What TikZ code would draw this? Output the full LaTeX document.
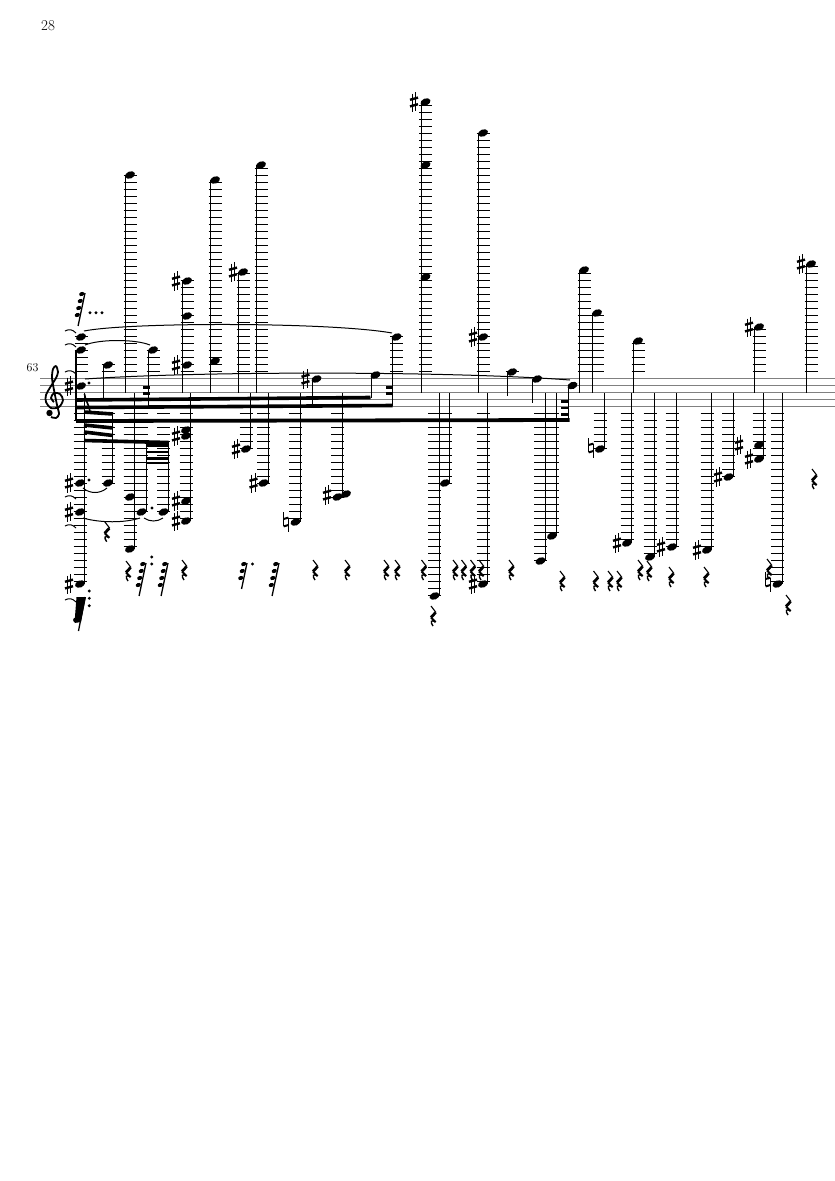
\documentclass[tikz,border=0pt]{standalone}
\usepackage{amssymb}
\usepackage{amsmath}
\tikzset{stemline/.style={line width=1.15pt},
  ledgerline/.style={line width=1.7pt},
  staffline/.style={line width=1pt,black!50},
  beamline/.style={line width=3.6pt},
  tieline/.style={line width=1pt}}
\newcommand{\nhead}[2]{\fill[rotate around={22:(#1,#2)}] (#1,#2) ellipse (5.2 and 3.5);}
\newcommand{\ndot}[2]{\fill (#1,#2) circle (1.6);}
\newcommand{\ledgersup}[2]{\pgfmathtruncatemacro\numled{(378.5-#2+1.5)/7}
  \ifnum\numled>0 \foreach \k in {1,...,\numled} {\draw[ledgerline] ({#1-6.5},{378.5-7*\k}) -- ({#1+6.5},{378.5-7*\k});} \fi}
\newcommand{\ledgersdown}[2]{\pgfmathtruncatemacro\numled{(#2-406.5+1.5)/7}
  \ifnum\numled>0 \foreach \k in {1,...,\numled} {\draw[ledgerline] ({#1-6.5},{406.5+7*\k}) -- ({#1+6.5},{406.5+7*\k});} \fi}
\newcommand{\hinote}[3][393]{\ledgersup{#2}{#3}\nhead{#2}{#3}\draw[stemline] ({#2-4.2},#3) -- ({#2-4.2},#1);}
\newcommand{\lownote}[3][393]{\ledgersdown{#2}{#3}\nhead{#2}{#3}\draw[stemline] ({#2+4.7},#1) -- ({#2+4.7},#3);}
\newcommand{\nsharp}[2]{\draw[line width=1.1pt] ({#1-1.7},{#2-8.5}) -- ({#1-1.7},{#2+10}) ({#1+1.7},{#2-10}) -- ({#1+1.7},{#2+8.5});
  \draw[line width=2.4pt] ({#1-4},{#2-2.2}) -- ({#1+4},{#2-4.4}) ({#1-4},{#2+4.4}) -- ({#1+4},{#2+2.2});}
\newcommand{\nnatural}[2]{\draw[line width=1.1pt] ({#1-2.4},{#2-10}) -- ({#1-2.4},{#2+4}) ({#1+2.4},{#2-4}) -- ({#1+2.4},{#2+10});
  \draw[line width=2pt] ({#1-2.4},{#2-3}) -- ({#1+2.4},{#2-4.4}) ({#1-2.4},{#2+4.4}) -- ({#1+2.4},{#2+3});}
\newcommand{\qrest}[2]{\draw[line width=1.1pt] ({#1-2},{#2-10}) -- ({#1+3},{#2-3.5});
  \draw[line width=2.8pt] ({#1+2.6},{#2-3.5}) -- ({#1-2},{#2+1.5});
  \draw[line width=2pt] ({#1-2},{#2+1.5}) -- ({#1+2.6},{#2+6});
  \draw[line width=1.4pt] ({#1+2.6},{#2+6}) .. controls ({#1-2},{#2+3}) and ({#1-3},{#2+6}) .. ({#1},{#2+10});}
\newcommand{\flagrest}[3]{\draw[line width=1.3pt] (#1,#2) -- ({#1-0.21*(7*#3+5)},{#2+7*#3+5});
  \foreach \k in {1,...,#3} {\fill[rotate around={22:({#1-0.21*7*\k+1.2-3},{#2+7*\k-6})}] ({#1-0.21*7*\k+1.2-3},{#2+7*\k-6}) ellipse (2.7 and 2);}}
\begin{document}
\begin{tikzpicture}[x=1pt,y=-1pt]
\useasboundingbox[fill=white] (0,0) rectangle (835,1181);
\node (pagenum) at (48,26) {\fontsize{15}{15}\selectfont 28};
\node (barnum) at (32.5,368) {\fontsize{12}{12}\selectfont 63};
\foreach \s in {378.5,385.5,392.5,399.5,406.5} {\draw[staffline] (40,\s) -- (835,\s);}
% clef and first chord
\draw[line width=1.8pt,line join=round] plot[smooth] coordinates{(54,402)(51,398)(54,393)(60,394)(63,400)(59,407)(51,408)(46,402)(46,395)(51,386)(56,378)(58,372)(56,366)(53,369)(52,378)(54,390)(57,405)(59,414)(56,418)(51,417)};
\fill (49.5,413) circle (3.2); \nsharp{69}{386}
\ledgersup{81}{337} \nhead{81}{337} \nhead{81}{350} \nhead{81}{386} \ndot{89}{383}
\draw[line width=1.9pt] (76,350) -- (76,421);
\lownote{80}{584} \nhead{80}{483} \nhead{80}{512} \nsharp{69}{483} \nsharp{69}{512} \nsharp{69}{584} \ndot{89}{480}
% ties on the left edge
\foreach \s in {331,345,372,497,526,600} {\draw[tieline] (65,\s) .. controls (69,{\s-2}) and (72,{\s-2}) .. (76,{\s+2});}
% notes over the staff
\hinote[398]{108}{365} \hinote{130}{175} \hinote[406]{153}{350}
\hinote{187}{281} \nhead{187}{316} \nhead{187}{365} \nsharp{176}{281} \nsharp{176}{365}
\hinote{215}{180} \nhead{215}{361}
\hinote{243}{272} \nsharp{233}{272} \hinote{261}{165}
\hinote[404]{316.5}{379} \nsharp{305.5}{379} \hinote[398]{375.5}{375} \hinote[406]{396.5}{337}
\hinote{425.5}{102} \nhead{425.5}{165} \nhead{425.5}{277} \nsharp{414}{102}
\hinote{483}{133} \nhead{483}{337} \nsharp{473}{337}
\hinote[396]{512}{372} \hinote[403]{537}{379} \hinote[420]{572.5}{385.5}
\hinote{584}{270} \hinote{597}{313} \hinote{638}{341}
\hinote{759}{327} \nsharp{749}{327} \hinote{811}{264} \nsharp{801}{264}
% notes under the staff
\lownote[414]{108}{483} \lownote{130}{497} \lownote{130}{549} \lownote[442]{141.5}{512} \lownote[442]{163.5}{512} \ndot{152}{508}
\lownote{186}{521} \nhead{186}{501} \nhead{186}{436} \nhead{186}{430} \nsharp{176}{436} \nsharp{176}{501} \nsharp{176}{521}
\lownote{246}{449} \nsharp{236}{449} \lownote{263.5}{483} \nsharp{253.5}{483}
\lownote{295.5}{522} \nnatural{286}{522}
\lownote{337.5}{497} \nhead{346}{494} \nsharp{327}{495}
\lownote{434.5}{596} \lownote{445}{483} \lownote{483}{584} \nsharp{473}{584}
\lownote{540.5}{561} \lownote{552}{536}
\lownote{600}{449} \nnatural{591}{448} \lownote{627}{543} \nsharp{617}{543} \lownote{650}{557}
\lownote{672}{547} \nsharp{661}{547} \lownote{707}{550} \nsharp{697}{550}
\lownote{728.5}{477} \nsharp{718}{477} \nsharp{739}{445}
\lownote{759}{459} \nhead{759}{445} \nsharp{749}{459}
\lownote{777.5}{584} \nnatural{768}{582}
% beams
\draw[beamline] (76,400) -- (370.5,397.5); \draw[beamline] (76,407.5) -- (392.5,405.5); \draw[line width=3.8pt] (76,421) -- (569.5,420);
\draw[line width=2.8pt] (143,387.5) -- (149.8,387.5) (143,393.5) -- (149.8,393.5) (386,387.5) -- (392.8,387.5) (386,393.5) -- (392.8,393.5);
\draw[line width=2.8pt] (561,401.5) -- (569,401.5) (561,408) -- (569,408) (561,414.5) -- (569,414.5);
\draw[line width=1.6pt] (84.5,394) .. controls (85,400) and (89,404) .. (90,412);
\draw[beamline] (84,412) -- (113,414); \draw[beamline] (84,425) -- (113,428); \draw[beamline] (84,432) -- (113,435.5);
\draw[beamline] (84,440.5) -- (168.5,442.5);
\draw[line width=2.8pt] (146,445.5) -- (168.5,445.5) (146,452) -- (168.5,452) (146,458.5) -- (168.5,458.5) (146,463) -- (168.5,463);
% slurs and ties
\draw[tieline] (84,331) .. controls (130,322) and (330,322) .. (392,333);
\draw[tieline] (85,345) .. controls (100,339) and (135,339) .. (150,345);
\draw[tieline] (85,379) .. controls (200,371) and (450,371) .. (570,380);
\draw[tieline] (83,488) .. controls (90,494) and (100,494) .. (107,488);
\draw[tieline] (83,518) .. controls (100,523) and (125,523) .. (140,518);
\draw[tieline] (144,518) .. controls (150,522) and (157,522) .. (163,518);
% flagged rests and their dots
\flagrest{85}{293}{4} \foreach \s in {90,96,102} {\ndot{\s}{312.7}}
\flagrest{146}{563}{4} \flagrest{168}{563}{4} \flagrest{247}{563}{3} \flagrest{279}{563}{4}
\ndot{151.7}{557} \ndot{151.7}{564} \ndot{252.5}{564}
\fill (76.5,597) -- (86,597) -- (81,622) -- (74.5,623) -- cycle; \draw[line width=1.3pt] (85,597) -- (78.5,631); \fill (75.5,620) circle (2.4);
\ndot{89.3}{591} \ndot{89.3}{598.3} \ndot{89.3}{605.7}
% quarter rests
\foreach \rx/\ry in {106.7/531.7,128/571,184/570,315/570,347/570,386/570,397/570,423.5/570,433/616,455/570,463.5/570,472.5/570,481/570,511/570,562/581,595.5/581,610/581,619/581,640/570,649/571,671/577,706/577,769/569,788/605,814/479} {\qrest{\rx}{\ry}}
\end{tikzpicture}
\end{document}
